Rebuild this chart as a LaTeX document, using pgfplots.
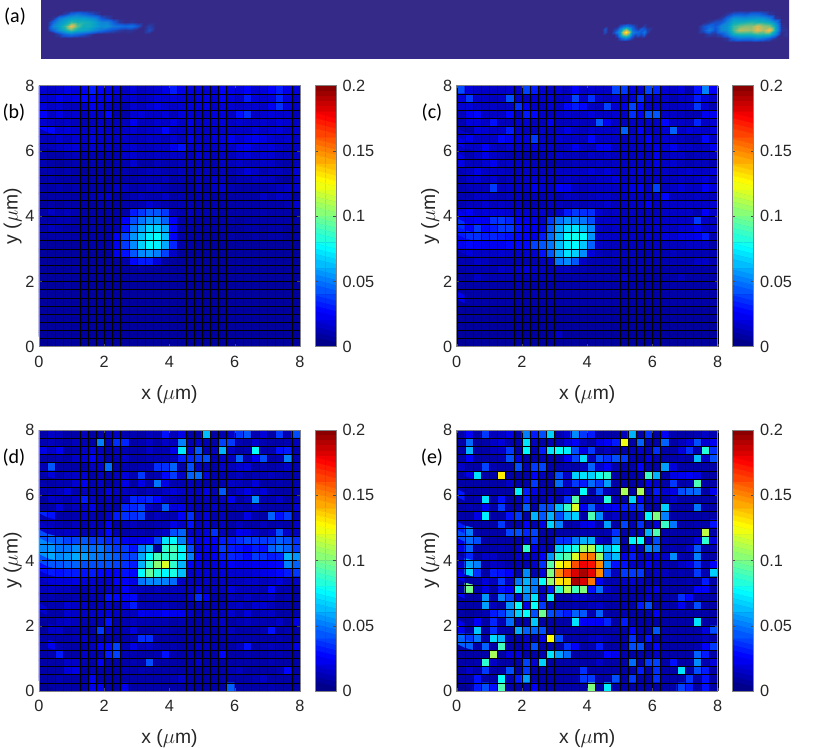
\documentclass[border=0pt]{standalone}
\usepackage{fontspec}
\setmainfont{Liberation Sans}
\newfontfamily\panelfont{Carlito}
\usepackage{pgfplots}
\usepackage{pgfplotstable}
\pgfplotsset{compat=1.18}
\pgfplotsset{table/x index=0,table/y index=0,table/z index=0}
\definecolor{txt}{RGB}{38,38,38}
\definecolor{axgray}{RGB}{130,130,130}
\definecolor{stripbg}{RGB}{53,42,135}
\definecolor{lowblue}{RGB}{0,0,150}

% strip (a): blobs, value 0..1 of the colormap, one line per y
\pgfplotstableread[row sep=crcr,header=false]{
0\\0\\0\\0\\0\\0\\0\\0\\0\\0\\0\\0\\0\\0\\0\\0\\0\\0\\0\\
0\\0\\0\\.05\\.15\\.2\\.15\\.1\\.05\\0\\0\\0\\0\\0\\0\\0\\0\\0\\0\\
0\\.02\\.2\\.3\\.35\\.35\\.35\\.3\\.25\\.1\\.05\\0\\0\\0\\0\\0\\0\\0\\0\\
0\\.15\\.3\\.38\\.5\\.45\\.45\\.42\\.35\\.25\\.25\\.12\\.03\\0\\.02\\0\\0\\0\\0\\
0\\.25\\.35\\.5\\.82\\.55\\.42\\.42\\.35\\.28\\.3\\.2\\.18\\.15\\.18\\.1\\0\\.05\\0\\
0\\.15\\.3\\.42\\.55\\.42\\.38\\.33\\.25\\.18\\.12\\.08\\.04\\.02\\.03\\0\\0\\.08\\0\\
0\\0\\.05\\.15\\.2\\.15\\.1\\.05\\0\\0\\0\\0\\0\\0\\0\\0\\0\\0\\0\\
0\\0\\0\\0\\0\\0\\0\\0\\0\\0\\0\\0\\0\\0\\0\\0\\0\\0\\0\\
}\blobleft
\pgfplotstableread[row sep=crcr,header=false]{
0\\0\\0\\0\\0\\0\\0\\0\\0\\.02\\0\\0\\0\\0\\0\\0\\0\\0\\
0\\0\\0\\0\\0\\0\\.08\\.15\\.2\\.15\\.1\\.04\\0\\0\\.04\\0\\0\\0\\
0\\.1\\0\\0\\.03\\.08\\.25\\.45\\.6\\.4\\.18\\.08\\.04\\.12\\.1\\.04\\.03\\0\\
0\\.08\\0\\0\\.08\\.2\\.35\\.75\\1\\.7\\.25\\.18\\.15\\.1\\.2\\.05\\0\\0\\
0\\0\\0\\0\\0\\.08\\.3\\.55\\.6\\.45\\.15\\.05\\.1\\.05\\.1\\0\\0\\0\\
0\\0\\0\\0\\0\\0\\.1\\.2\\.25\\.15\\.05\\0\\0\\0\\0\\0\\0\\0\\
0\\0\\0\\0\\0\\0\\0\\0\\0\\0\\0\\0\\0\\0\\0\\0\\0\\0\\
}\blobmid
\pgfplotstableread[row sep=crcr,header=false]{
0\\0\\0\\0\\0\\0\\0\\0\\0\\0\\0\\0\\0\\0\\0\\
0\\0\\0\\0\\0\\.03\\.1\\.12\\.1\\.15\\.15\\.1\\.03\\0\\0\\
0\\0\\0\\0\\.03\\.15\\.3\\.3\\.28\\.3\\.32\\.3\\.22\\.03\\0\\
0\\0\\.03\\.08\\.1\\.25\\.4\\.42\\.45\\.48\\.45\\.45\\.4\\.25\\0\\
0\\.08\\.15\\.1\\.25\\.3\\.5\\.58\\.62\\.62\\.75\\.65\\.62\\.38\\.02\\
0\\.08\\.22\\.08\\.25\\.3\\.52\\.7\\.68\\.65\\.8\\.68\\.85\\.42\\.03\\
0\\0\\.05\\.03\\.08\\.2\\.4\\.45\\.45\\.45\\.5\\.48\\.48\\.25\\0\\
0\\0\\0\\0\\0\\.03\\.15\\.22\\.2\\.2\\.25\\.2\\.12\\.02\\0\\
0\\0\\0\\0\\0\\0\\0\\0\\0\\0\\0\\0\\0\\0\\0\\
}\blobright

% colour scale, top level first, two cells per level, units of 0.001
\pgfplotstableread[row sep=crcr,header=false]{
198\\198\\194\\194\\190\\190\\186\\186\\182\\182\\178\\178\\174\\174\\170\\170\\166\\166\\162\\162\\
158\\158\\154\\154\\150\\150\\146\\146\\142\\142\\138\\138\\134\\134\\130\\130\\126\\126\\122\\122\\
118\\118\\114\\114\\110\\110\\106\\106\\102\\102\\98\\98\\94\\94\\90\\90\\86\\86\\82\\82\\
78\\78\\74\\74\\70\\70\\66\\66\\62\\62\\58\\58\\54\\54\\50\\50\\46\\46\\42\\42\\
38\\38\\34\\34\\30\\30\\26\\26\\22\\22\\18\\18\\14\\14\\10\\10\\6\\6\\2\\2\\
}\scaletab

% panels: 32 x 32 cells in units of 0.001, top row first, one line per row
\pgfplotstableread[row sep=crcr,header=false]{
16\\14\\16\\20\\18\\22\\30\\24\\20\\18\\12\\18\\12\\14\\16\\20\\30\\20\\18\\18\\16\\16\\24\\20\\18\\24\\16\\18\\24\\30\\20\\18\\
16\\16\\22\\18\\20\\26\\24\\20\\22\\14\\14\\16\\12\\14\\18\\16\\18\\16\\14\\18\\20\\16\\24\\18\\14\\30\\18\\16\\18\\32\\18\\14\\
18\\14\\16\\12\\12\\14\\22\\18\\14\\12\\10\\16\\12\\16\\20\\16\\14\\16\\18\\18\\20\\14\\18\\16\\14\\16\\16\\14\\22\\34\\18\\14\\
24\\14\\20\\14\\16\\12\\16\\14\\26\\10\\8\\16\\18\\14\\14\\18\\12\\18\\16\\14\\14\\18\\18\\14\\28\\34\\14\\16\\18\\16\\16\\12\\
16\\14\\12\\14\\12\\10\\12\\14\\12\\12\\12\\22\\12\\12\\16\\14\\20\\14\\20\\14\\16\\16\\18\\14\\16\\14\\14\\16\\14\\18\\16\\14\\
26\\26\\16\\18\\16\\14\\16\\16\\14\\14\\14\\16\\12\\14\\16\\26\\14\\14\\16\\14\\14\\14\\14\\14\\14\\14\\18\\14\\16\\18\\14\\16\\
12\\12\\16\\12\\16\\14\\18\\14\\14\\14\\14\\12\\12\\14\\14\\12\\16\\12\\20\\14\\14\\18\\18\\22\\16\\20\\22\\20\\16\\14\\16\\14\\
12\\12\\14\\16\\18\\12\\16\\14\\14\\12\\14\\16\\12\\12\\14\\14\\22\\28\\14\\16\\14\\14\\16\\14\\20\\22\\16\\16\\18\\14\\12\\14\\
10\\8\\8\\10\\12\\10\\10\\10\\10\\10\\14\\16\\12\\12\\14\\12\\14\\14\\12\\18\\14\\12\\14\\12\\16\\18\\14\\16\\16\\12\\12\\14\\
10\\8\\6\\8\\10\\8\\10\\10\\8\\10\\10\\16\\8\\8\\12\\10\\10\\12\\12\\12\\10\\10\\14\\12\\14\\12\\12\\14\\14\\10\\8\\12\\
10\\10\\8\\10\\8\\6\\8\\8\\8\\8\\10\\8\\10\\12\\12\\10\\10\\12\\10\\12\\12\\10\\12\\10\\12\\18\\14\\10\\12\\12\\10\\18\\
8\\10\\8\\8\\8\\8\\8\\10\\6\\8\\8\\8\\10\\10\\10\\12\\8\\10\\8\\12\\10\\14\\12\\8\\10\\10\\12\\12\\12\\8\\6\\14\\
8\\8\\10\\8\\10\\8\\8\\8\\8\\14\\12\\8\\10\\12\\12\\10\\8\\8\\8\\12\\8\\14\\16\\10\\8\\8\\8\\8\\10\\12\\14\\16\\
8\\8\\8\\8\\8\\8\\10\\12\\14\\8\\8\\10\\12\\10\\10\\14\\8\\10\\8\\10\\10\\8\\8\\8\\8\\8\\8\\14\\10\\14\\12\\8\\
6\\8\\6\\8\\8\\8\\6\\8\\8\\8\\8\\8\\10\\16\\12\\10\\8\\10\\10\\8\\8\\10\\8\\8\\8\\8\\8\\8\\8\\8\\10\\16\\
8\\14\\10\\12\\10\\8\\8\\8\\8\\8\\8\\30\\36\\42\\42\\36\\12\\10\\12\\10\\10\\10\\8\\8\\8\\8\\8\\10\\8\\8\\8\\8\\
8\\8\\10\\10\\8\\8\\8\\8\\8\\8\\24\\40\\48\\54\\54\\44\\24\\8\\10\\8\\8\\8\\8\\8\\6\\8\\8\\8\\8\\8\\8\\8\\
8\\12\\10\\8\\8\\8\\8\\8\\8\\10\\28\\48\\58\\66\\66\\58\\26\\8\\8\\8\\8\\8\\8\\6\\6\\8\\8\\6\\8\\8\\6\\6\\
8\\8\\8\\8\\8\\8\\8\\8\\8\\24\\38\\54\\64\\72\\76\\62\\24\\8\\8\\8\\6\\6\\6\\8\\6\\6\\8\\6\\8\\8\\6\\8\\
6\\6\\6\\6\\6\\8\\8\\8\\8\\22\\36\\52\\66\\74\\72\\58\\32\\8\\8\\6\\6\\6\\6\\6\\6\\6\\6\\6\\6\\6\\6\\6\\
6\\6\\6\\6\\6\\6\\6\\6\\6\\22\\28\\42\\52\\54\\50\\38\\14\\6\\6\\6\\6\\6\\6\\6\\6\\6\\6\\6\\6\\6\\6\\6\\
6\\6\\6\\6\\6\\6\\6\\6\\6\\6\\8\\26\\30\\30\\18\\8\\6\\6\\6\\6\\6\\6\\6\\6\\6\\6\\6\\6\\6\\6\\6\\6\\
6\\6\\6\\6\\7\\6\\6\\6\\6\\6\\6\\6\\7\\6\\6\\6\\6\\6\\6\\6\\6\\6\\6\\6\\6\\6\\6\\6\\6\\6\\6\\6\\
6\\6\\6\\6\\6\\6\\6\\6\\6\\6\\6\\6\\6\\6\\6\\6\\6\\6\\6\\6\\6\\6\\6\\6\\6\\6\\6\\6\\6\\6\\6\\6\\
6\\6\\6\\7\\6\\6\\6\\6\\6\\6\\6\\6\\6\\6\\6\\6\\6\\6\\6\\6\\6\\6\\6\\6\\6\\6\\6\\6\\6\\6\\6\\6\\
6\\6\\6\\6\\6\\6\\6\\6\\6\\6\\6\\6\\6\\6\\6\\6\\6\\6\\6\\6\\6\\6\\6\\6\\6\\6\\6\\6\\6\\6\\6\\6\\
6\\6\\6\\6\\6\\6\\6\\6\\6\\6\\6\\6\\6\\6\\6\\6\\6\\6\\6\\6\\6\\6\\6\\6\\6\\6\\6\\6\\6\\6\\6\\6\\
6\\6\\6\\6\\6\\6\\6\\6\\6\\6\\6\\6\\6\\6\\6\\6\\6\\6\\6\\6\\6\\6\\6\\6\\6\\6\\6\\6\\6\\6\\6\\6\\
6\\6\\6\\6\\6\\6\\6\\6\\6\\6\\6\\6\\6\\6\\6\\6\\6\\6\\6\\6\\6\\6\\6\\6\\6\\6\\6\\6\\6\\6\\6\\6\\
6\\6\\6\\6\\6\\6\\6\\6\\6\\6\\6\\6\\6\\6\\6\\6\\6\\6\\6\\6\\6\\6\\6\\6\\6\\6\\6\\6\\6\\6\\6\\6\\
6\\6\\6\\6\\6\\6\\6\\6\\6\\6\\6\\6\\6\\6\\6\\6\\6\\6\\6\\6\\6\\6\\6\\6\\6\\6\\6\\6\\6\\6\\6\\6\\
6\\6\\6\\6\\6\\6\\6\\6\\6\\6\\6\\6\\6\\6\\6\\6\\6\\6\\6\\6\\6\\6\\6\\6\\6\\6\\6\\6\\6\\6\\6\\6\\
}\tabb
\pgfplotstableread[row sep=crcr,header=false]{
40\\18\\14\\14\\14\\14\\16\\14\\38\\30\\16\\14\\16\\12\\24\\14\\16\\14\\14\\38\\36\\18\\16\\38\\32\\16\\14\\18\\10\\28\\50\\24\\
18\\36\\14\\14\\12\\14\\40\\14\\12\\16\\14\\16\\12\\14\\38\\14\\34\\14\\12\\16\\14\\16\\34\\14\\14\\14\\10\\14\\14\\30\\18\\14\\
16\\18\\14\\12\\14\\12\\14\\34\\22\\14\\12\\16\\14\\26\\30\\26\\14\\12\\38\\16\\20\\38\\26\\14\\16\\14\\12\\14\\14\\36\\16\\10\\
12\\22\\26\\14\\14\\14\\26\\12\\30\\26\\14\\12\\14\\16\\14\\14\\18\\14\\14\\16\\14\\34\\22\\40\\42\\14\\14\\12\\10\\10\\22\\22\\
10\\18\\18\\14\\28\\12\\12\\14\\16\\12\\12\\22\\12\\12\\14\\12\\12\\42\\22\\14\\12\\14\\14\\14\\14\\26\\14\\14\\12\\32\\14\\16\\
8\\8\\18\\16\\14\\14\\30\\14\\12\\12\\14\\12\\14\\20\\14\\12\\16\\14\\14\\14\\44\\12\\24\\14\\14\\16\\44\\14\\18\\16\\14\\18\\
14\\22\\14\\14\\14\\26\\22\\18\\18\\36\\14\\12\\16\\14\\14\\12\\26\\14\\14\\14\\12\\14\\14\\24\\14\\16\\14\\12\\10\\10\\26\\14\\
20\\14\\14\\24\\14\\12\\16\\14\\14\\18\\14\\14\\12\\14\\22\\14\\12\\22\\22\\14\\14\\14\\14\\14\\20\\16\\22\\14\\14\\12\\14\\22\\
14\\10\\14\\20\\14\\12\\10\\10\\8\\10\\10\\12\\14\\12\\12\\10\\14\\12\\14\\12\\14\\12\\14\\12\\22\\12\\14\\14\\10\\12\\12\\12\\
20\\12\\12\\16\\22\\12\\14\\14\\14\\12\\10\\8\\10\\10\\12\\12\\12\\14\\12\\14\\14\\14\\14\\14\\20\\14\\16\\12\\10\\12\\12\\10\\
12\\14\\20\\14\\14\\14\\12\\12\\14\\14\\12\\12\\14\\14\\14\\14\\18\\14\\18\\14\\14\\16\\18\\14\\14\\14\\12\\14\\16\\14\\14\\18\\
10\\14\\16\\12\\16\\10\\12\\12\\14\\16\\14\\12\\12\\14\\12\\12\\12\\14\\14\\18\\14\\14\\14\\12\\14\\12\\12\\14\\12\\14\\18\\12\\
10\\12\\12\\12\\36\\12\\14\\14\\14\\22\\16\\14\\24\\22\\14\\12\\14\\14\\14\\14\\16\\20\\22\\14\\38\\12\\14\\18\\14\\14\\24\\18\\
10\\10\\14\\14\\12\\10\\12\\12\\10\\12\\10\\12\\10\\14\\12\\10\\12\\14\\14\\12\\14\\14\\14\\14\\14\\26\\12\\12\\12\\14\\12\\12\\
10\\12\\12\\16\\12\\14\\12\\12\\10\\10\\10\\12\\12\\10\\12\\10\\12\\12\\16\\12\\14\\14\\14\\22\\14\\14\\14\\14\\14\\14\\14\\16\\
18\\24\\16\\18\\18\\18\\16\\16\\16\\14\\16\\12\\14\\30\\36\\34\\34\\16\\12\\14\\12\\14\\12\\12\\12\\14\\14\\14\\14\\10\\24\\14\\
22\\20\\24\\22\\34\\36\\32\\24\\22\\20\\14\\36\\48\\54\\50\\48\\40\\14\\14\\14\\14\\12\\14\\14\\16\\14\\14\\14\\14\\36\\14\\12\\
34\\24\\36\\26\\30\\36\\36\\28\\24\\22\\20\\42\\58\\68\\70\\62\\52\\14\\12\\14\\12\\12\\14\\14\\16\\14\\12\\16\\16\\22\\14\\14\\
30\\34\\34\\30\\32\\30\\28\\26\\24\\20\\30\\46\\60\\76\\78\\76\\54\\14\\14\\14\\14\\14\\12\\16\\14\\18\\16\\20\\20\\22\\30\\10\\
22\\26\\24\\22\\22\\22\\26\\26\\26\\38\\42\\48\\62\\72\\74\\64\\44\\14\\12\\12\\12\\12\\12\\12\\14\\12\\12\\12\\14\\14\\14\\8\\
14\\18\\14\\14\\14\\16\\14\\14\\16\\16\\28\\42\\58\\70\\66\\52\\18\\12\\10\\12\\12\\12\\10\\10\\12\\10\\12\\10\\10\\10\\10\\10\\
10\\10\\14\\12\\10\\10\\10\\10\\10\\10\\12\\14\\48\\52\\42\\14\\10\\10\\10\\10\\10\\10\\10\\10\\10\\10\\10\\10\\10\\14\\14\\10\\
10\\10\\10\\10\\10\\14\\12\\14\\18\\14\\12\\10\\12\\12\\10\\10\\8\\8\\8\\8\\8\\8\\10\\8\\8\\8\\8\\8\\8\\8\\8\\8\\
8\\8\\14\\10\\10\\10\\10\\10\\10\\10\\10\\10\\8\\8\\8\\8\\8\\8\\8\\8\\14\\8\\8\\8\\8\\8\\8\\12\\8\\8\\8\\8\\
8\\8\\8\\8\\8\\8\\8\\10\\8\\8\\8\\8\\8\\8\\8\\8\\8\\8\\8\\8\\8\\8\\8\\8\\8\\8\\8\\8\\8\\8\\8\\8\\
8\\8\\8\\8\\8\\8\\8\\8\\8\\10\\8\\8\\8\\8\\8\\8\\8\\8\\8\\8\\8\\8\\8\\8\\8\\8\\8\\8\\8\\8\\8\\8\\
22\\8\\8\\8\\8\\8\\8\\8\\8\\8\\8\\8\\8\\8\\8\\8\\8\\8\\8\\8\\8\\8\\8\\8\\8\\8\\8\\8\\8\\8\\8\\8\\
6\\6\\6\\6\\6\\6\\6\\6\\6\\6\\6\\6\\6\\6\\6\\6\\6\\6\\6\\6\\6\\6\\6\\6\\6\\6\\6\\6\\6\\6\\6\\6\\
6\\6\\6\\6\\6\\6\\6\\6\\6\\6\\6\\6\\6\\6\\6\\6\\6\\6\\6\\6\\6\\6\\6\\6\\6\\6\\6\\6\\6\\6\\6\\6\\
6\\6\\6\\6\\6\\6\\6\\6\\6\\6\\6\\6\\6\\6\\6\\6\\6\\6\\6\\6\\6\\6\\6\\6\\6\\6\\6\\6\\6\\6\\6\\6\\
6\\6\\6\\6\\6\\6\\6\\6\\6\\6\\6\\6\\14\\6\\6\\6\\6\\6\\6\\6\\6\\6\\6\\6\\6\\6\\6\\6\\6\\6\\6\\6\\
6\\6\\6\\6\\6\\6\\6\\6\\6\\6\\6\\6\\6\\6\\6\\6\\6\\6\\6\\6\\6\\6\\6\\6\\6\\6\\6\\6\\6\\6\\6\\6\\
}\tabc
\pgfplotstableread[row sep=crcr,header=false]{
8\\14\\12\\8\\8\\12\\8\\10\\12\\14\\10\\10\\8\\12\\10\\28\\12\\20\\8\\8\\62\\8\\10\\14\\36\\42\\10\\18\\8\\36\\10\\40\\
10\\12\\10\\8\\12\\10\\8\\50\\10\\34\\32\\8\\10\\14\\8\\14\\12\\50\\10\\14\\10\\8\\38\\36\\10\\8\\16\\10\\8\\8\\10\\12\\
20\\14\\22\\8\\10\\14\\18\\12\\8\\12\\10\\8\\8\\14\\10\\10\\20\\70\\16\\42\\10\\12\\60\\14\\8\\10\\76\\10\\10\\28\\30\\10\\
8\\8\\10\\8\\14\\16\\24\\14\\8\\10\\14\\8\\8\\10\\10\\10\\12\\30\\32\\36\\40\\10\\14\\12\\44\\10\\22\\40\\8\\10\\50\\10\\
10\\42\\8\\8\\8\\8\\12\\14\\46\\8\\10\\8\\10\\10\\34\\34\\44\\8\\40\\12\\10\\8\\14\\12\\16\\18\\8\\10\\8\\10\\14\\10\\
10\\18\\10\\12\\14\\16\\8\\12\\10\\12\\18\\10\\36\\8\\10\\26\\36\\14\\44\\46\\18\\10\\10\\10\\12\\8\\10\\10\\12\\10\\8\\10\\
8\\8\\10\\10\\16\\22\\10\\14\\8\\10\\20\\8\\20\\10\\48\\20\\10\\10\\12\\10\\8\\8\\10\\14\\12\\10\\18\\8\\8\\10\\8\\10\\
10\\10\\12\\18\\10\\12\\10\\10\\18\\12\\12\\12\\8\\12\\10\\14\\18\\14\\12\\12\\20\\10\\42\\10\\14\\20\\12\\18\\10\\8\\8\\10\\
8\\14\\12\\10\\14\\30\\12\\10\\12\\10\\12\\32\\30\\32\\26\\14\\12\\10\\12\\10\\12\\10\\12\\22\\8\\12\\52\\10\\10\\14\\8\\12\\
6\\8\\18\\8\\12\\14\\20\\8\\10\\8\\32\\32\\38\\14\\10\\42\\18\\20\\12\\10\\10\\14\\10\\8\\10\\8\\14\\8\\8\\8\\8\\16\\
32\\28\\8\\8\\10\\14\\10\\8\\14\\30\\34\\34\\38\\8\\12\\10\\10\\24\\34\\12\\18\\10\\12\\8\\8\\20\\10\\8\\44\\28\\36\\10\\
10\\12\\10\\8\\12\\10\\12\\10\\22\\8\\10\\12\\8\\8\\10\\10\\20\\14\\28\\12\\16\\10\\12\\8\\12\\8\\8\\12\\8\\10\\8\\14\\
14\\14\\12\\14\\14\\10\\10\\14\\26\\10\\8\\10\\10\\8\\12\\14\\40\\44\\14\\14\\18\\34\\12\\10\\22\\20\\14\\10\\14\\40\\14\\12\\
40\\44\\44\\38\\38\\42\\36\\36\\32\\32\\22\\20\\22\\24\\38\\70\\74\\50\\28\\20\\24\\24\\30\\30\\34\\38\\36\\36\\38\\44\\40\\34\\
52\\54\\48\\48\\52\\50\\46\\48\\42\\36\\36\\28\\50\\60\\6\\84\\88\\72\\40\\18\\22\\22\\36\\30\\28\\24\\30\\28\\44\\48\\44\\36\\
54\\58\\52\\54\\58\\56\\50\\48\\46\\42\\38\\38\\58\\76\\88\\84\\86\\74\\50\\24\\18\\22\\30\\32\\30\\26\\36\\34\\30\\32\\60\\54\\
40\\42\\42\\44\\44\\40\\40\\40\\40\\38\\34\\30\\60\\84\\102\\118\\84\\60\\22\\18\\16\\18\\20\\24\\20\\20\\22\\22\\24\\26\\50\\44\\
28\\30\\28\\30\\30\\28\\30\\26\\24\\24\\28\\26\\74\\94\\82\\74\\80\\62\\14\\16\\16\\14\\18\\16\\16\\16\\18\\20\\22\\26\\30\\36\\
16\\18\\18\\18\\20\\18\\16\\14\\14\\24\\24\\20\\48\\52\\52\\50\\46\\14\\12\\12\\14\\12\\14\\12\\12\\14\\14\\12\\14\\18\\12\\14\\
12\\14\\12\\12\\10\\10\\12\\10\\12\\12\\24\\14\\12\\10\\12\\10\\12\\12\\12\\18\\10\\12\\12\\18\\12\\12\\12\\10\\26\\10\\10\\8\\
8\\10\\8\\8\\10\\8\\10\\10\\28\\26\\22\\26\\8\\10\\10\\10\\10\\10\\14\\34\\22\\8\\8\\12\\10\\14\\10\\12\\14\\8\\10\\8\\
8\\10\\10\\16\\14\\14\\10\\12\\14\\10\\18\\30\\10\\10\\10\\12\\10\\8\\8\\10\\8\\10\\10\\12\\14\\10\\16\\16\\12\\8\\8\\8\\
16\\8\\8\\16\\14\\14\\14\\16\\18\\14\\12\\12\\22\\20\\20\\24\\22\\22\\14\\10\\12\\12\\12\\16\\10\\18\\10\\12\\14\\8\\8\\10\\
8\\8\\12\\14\\12\\10\\10\\10\\28\\8\\10\\12\\10\\10\\10\\10\\8\\10\\8\\8\\8\\10\\14\\8\\10\\12\\10\\10\\10\\14\\8\\20\\
6\\14\\14\\8\\10\\8\\8\\36\\14\\10\\10\\18\\8\\8\\10\\10\\8\\8\\8\\8\\10\\8\\10\\12\\8\\8\\8\\10\\28\\8\\10\\8\\
8\\8\\8\\8\\10\\14\\8\\8\\8\\8\\8\\10\\34\\34\\8\\8\\8\\8\\8\\8\\10\\8\\8\\8\\8\\8\\8\\8\\8\\10\\8\\8\\
8\\22\\10\\8\\8\\8\\12\\24\\26\\38\\10\\20\\12\\14\\10\\8\\10\\8\\8\\14\\12\\10\\8\\8\\12\\28\\8\\10\\12\\10\\10\\20\\
8\\10\\30\\8\\8\\14\\10\\10\\30\\38\\10\\10\\8\\8\\10\\28\\10\\8\\10\\8\\10\\8\\26\\8\\8\\10\\8\\8\\10\\10\\8\\8\\
8\\8\\8\\14\\14\\10\\8\\22\\8\\8\\8\\10\\8\\40\\8\\8\\8\\8\\8\\14\\8\\8\\8\\8\\8\\8\\8\\8\\10\\8\\8\\8\\
8\\8\\8\\18\\20\\8\\10\\8\\8\\8\\10\\8\\10\\8\\8\\8\\8\\8\\8\\8\\8\\8\\8\\10\\12\\8\\8\\8\\8\\10\\26\\8\\
8\\8\\10\\8\\8\\8\\22\\8\\8\\8\\8\\8\\8\\8\\8\\8\\10\\14\\8\\8\\8\\8\\8\\8\\8\\8\\10\\14\\8\\8\\8\\8\\
8\\8\\8\\8\\8\\8\\22\\22\\8\\8\\22\\8\\8\\8\\8\\8\\8\\8\\8\\8\\8\\8\\8\\44\\8\\8\\8\\8\\10\\8\\8\\8\\
}\tabd
\pgfplotstableread[row sep=crcr,header=false]{
8\\24\\8\\36\\12\\14\\20\\8\\50\\30\\40\\66\\10\\16\\52\\36\\30\\8\\8\\8\\12\\60\\8\\34\\8\\24\\10\\8\\8\\10\\14\\10\\
8\\46\\6\\8\\14\\18\\10\\8\\70\\12\\8\\10\\10\\18\\24\\12\\8\\20\\24\\30\\122\\8\\44\\8\\8\\44\\8\\12\\18\\40\\16\\22\\
8\\60\\8\\8\\12\\14\\36\\8\\74\\10\\30\\70\\76\\72\\40\\20\\36\\8\\12\\8\\8\\10\\14\\10\\34\\8\\8\\18\\34\\10\\82\\34\\
8\\24\\8\\8\\8\\10\\40\\18\\8\\8\\10\\8\\8\\22\\38\\68\\12\\40\\34\\40\\36\\10\\8\\18\\10\\8\\8\\10\\8\\62\\14\\40\\
14\\8\\8\\38\\10\\8\\8\\40\\10\\36\\38\\8\\8\\10\\8\\12\\44\\16\\24\\10\\8\\8\\24\\8\\8\\56\\18\\8\\8\\8\\8\\8\\
8\\20\\70\\8\\8\\128\\8\\8\\8\\24\\12\\8\\40\\14\\66\\70\\66\\78\\84\\8\\8\\8\\10\\86\\60\\8\\20\\22\\24\\20\\8\\8\\
8\\8\\8\\8\\8\\8\\14\\8\\8\\36\\8\\8\\46\\14\\36\\30\\46\\36\\56\\8\\8\\8\\8\\20\\14\\8\\36\\8\\10\\90\\8\\8\\
8\\8\\8\\8\\8\\8\\8\\72\\30\\20\\12\\8\\10\\14\\8\\76\\8\\40\\12\\8\\108\\8\\108\\10\\30\\16\\20\\40\\44\\46\\8\\22\\
30\\8\\10\\70\\8\\28\\8\\10\\30\\10\\8\\16\\8\\34\\92\\8\\8\\10\\82\\10\\8\\66\\24\\8\\14\\8\\14\\8\\8\\8\\8\\8\\
8\\10\\8\\22\\8\\36\\8\\8\\44\\8\\40\\40\\62\\86\\118\\22\\44\\14\\20\\24\\30\\30\\34\\8\\8\\66\\8\\8\\8\\48\\8\\8\\
8\\8\\20\\72\\8\\8\\28\\36\\8\\60\\42\\60\\40\\60\\66\\8\\90\\52\\10\\14\\10\\8\\12\\74\\100\\50\\8\\8\\8\\8\\8\\8\\
8\\8\\8\\8\\8\\36\\8\\8\\24\\10\\20\\66\\50\\8\\10\\20\\22\\10\\56\\8\\38\\10\\34\\8\\18\\86\\48\\8\\8\\10\\8\\28\\
30\\50\\8\\8\\8\\8\\38\\40\\32\\38\\8\\8\\8\\8\\8\\10\\10\\8\\10\\34\\8\\10\\10\\60\\90\\8\\8\\8\\8\\8\\112\\8\\
40\\46\\40\\8\\8\\8\\8\\8\\14\\34\\8\\8\\34\\34\\48\\60\\60\\14\\10\\48\\8\\72\\76\\12\\40\\10\\8\\8\\8\\18\\84\\18\\
20\\44\\8\\8\\8\\10\\8\\12\\84\\20\\12\\10\\66\\72\\80\\108\\110\\80\\62\\72\\8\\20\\10\\52\\46\\8\\10\\8\\14\\42\\8\\10\\
8\\32\\8\\14\\14\\8\\8\\14\\14\\14\\24\\54\\84\\92\\118\\148\\152\\106\\52\\62\\20\\30\\14\\16\\20\\14\\52\\10\\8\\50\\8\\8\\
14\\56\\50\\8\\14\\12\\8\\10\\10\\14\\34\\92\\122\\132\\160\\178\\172\\148\\52\\28\\28\\14\\12\\22\\14\\10\\8\\14\\18\\36\\10\\24\\
16\\66\\34\\8\\30\\28\\24\\8\\52\\10\\18\\100\\148\\164\\182\\192\\180\\148\\40\\12\\36\\36\\36\\10\\14\\12\\8\\10\\8\\36\\10\\66\\
22\\8\\8\\18\\12\\36\\14\\48\\60\\50\\76\\104\\130\\132\\192\\182\\152\\22\\10\\10\\14\\16\\12\\8\\8\\8\\8\\8\\10\\8\\30\\8\\
8\\98\\8\\20\\8\\28\\24\\72\\58\\48\\12\\30\\84\\110\\88\\100\\28\\46\\14\\10\\10\\10\\8\\14\\20\\8\\8\\8\\8\\24\\24\\8\\
26\\8\\8\\54\\8\\50\\38\\16\\50\\70\\14\\72\\8\\8\\14\\14\\10\\8\\8\\8\\8\\8\\8\\14\\8\\8\\8\\34\\26\\8\\8\\8\\
8\\8\\8\\56\\12\\8\\54\\76\\20\\76\\36\\8\\8\\8\\10\\8\\12\\14\\8\\8\\10\\8\\30\\40\\8\\10\\8\\22\\8\\40\\8\\8\\
8\\6\\8\\10\\30\\36\\50\\66\\76\\40\\96\\40\\36\\30\\44\\42\\10\\44\\8\\8\\10\\8\\8\\8\\24\\8\\8\\8\\8\\8\\8\\8\\
8\\8\\24\\8\\32\\10\\46\\8\\8\\64\\8\\8\\8\\8\\70\\24\\24\\24\\32\\8\\30\\8\\8\\8\\8\\8\\8\\8\\8\\70\\8\\8\\
22\\8\\64\\8\\34\\10\\8\\58\\44\\44\\40\\8\\8\\8\\8\\8\\8\\8\\8\\8\\8\\24\\10\\8\\42\\8\\8\\8\\8\\8\\18\\40\\
46\\36\\48\\8\\68\\60\\10\\8\\14\\8\\20\\124\\40\\8\\8\\8\\12\\14\\10\\8\\8\\34\\8\\28\\8\\8\\8\\8\\8\\8\\12\\8\\
44\\44\\8\\44\\8\\88\\8\\8\\14\\40\\8\\8\\8\\34\\24\\8\\10\\30\\8\\8\\8\\40\\40\\8\\26\\8\\8\\8\\8\\10\\24\\36\\
8\\8\\8\\8\\108\\8\\18\\18\\8\\8\\10\\70\\56\\46\\8\\8\\8\\8\\26\\22\\10\\8\\8\\8\\14\\8\\8\\8\\8\\44\\30\\8\\
8\\8\\10\\84\\14\\8\\8\\8\\38\\16\\66\\8\\8\\8\\8\\8\\8\\14\\8\\8\\8\\46\\8\\36\\38\\8\\28\\8\\8\\52\\10\\18\\
8\\14\\10\\36\\8\\8\\40\\8\\36\\8\\8\\8\\8\\8\\8\\34\\8\\8\\8\\8\\8\\8\\30\\8\\34\\8\\8\\70\\8\\40\\30\\8\\
8\\8\\28\\8\\8\\76\\10\\30\\56\\8\\8\\8\\8\\8\\8\\36\\36\\8\\8\\40\\8\\36\\8\\8\\34\\8\\8\\8\\36\\8\\28\\8\\
8\\8\\30\\40\\28\\90\\8\\8\\8\\24\\8\\8\\8\\8\\8\\8\\100\\8\\72\\8\\8\\8\\8\\8\\8\\8\\8\\38\\30\\8\\28\\8\\
}\tabe

\pgfplotsset{
  panel/.style={
    scale only axis, width=261pt, height=261pt,
    xmin=0, xmax=8, ymin=0, ymax=8,
    xtick={0,2,4,6,8}, ytick={0,2,4,6,8},
    xticklabels={0,2,4,6,8}, yticklabels={8,6,4,2,0},
    minor x tick num=7, minor y tick num=7, minor tick length=0pt,
    grid=both, grid style={draw=black,line width=0.4pt},
    tick align=inside, major tick length=2.6pt,
    tick style={draw=black!70,line width=0.4pt},
    axis line style={draw=axgray,line width=0.7pt},
    axis on top,
    axis background/.style={fill=lowblue},
    colormap/jet, point meta min=0, point meta max=0.2,
    tick label style={font=\fontsize{16.3}{19}\selectfont,text=txt},
    xticklabel style={yshift=-6pt},
    yticklabel style={xshift=-1pt},
    label style={font=\fontsize{19.3}{22}\selectfont,text=txt},
    xlabel={x ($\mu$m)}, ylabel={y ($\mu$m)},
    xlabel style={yshift=-11pt},
    ylabel style={yshift=-3pt},
  },
  scalebar/.style={
    scale only axis, width=21pt, height=261pt,
    xmin=0, xmax=2, ymin=0, ymax=200,
    xtick=\empty, ytick={0,50,100,150,200},
    yticklabels={0.2,0.15,0.1,0.05,0},
    yticklabel pos=right,
    tick align=inside, major tick length=2.6pt,
    tick style={draw=black!70,line width=0.4pt},
    axis line style={draw=axgray,line width=0.7pt},
    axis on top,
    axis background/.style={fill=lowblue},
    colormap/jet, point meta min=0, point meta max=0.2,
    yticklabel style={font=\fontsize{16.3}{19}\selectfont,text=txt,xshift=3pt},
  },
  cells/.style={matrix plot, mesh/cols=32, point meta=explicit,
    faceted color=black, line width=0.35pt},
  scalecells/.style={matrix plot, mesh/cols=2, point meta=explicit},
}
\newcommand{\cellmap}[1]{\addplot[cells] table[
    x expr={0.25*mod(\coordindex,32)+0.125},
    y expr={0.125+0.25*floor(\coordindex/32)},
    meta expr={\thisrowno{0}/1000}] {#1};}
\newcommand{\scaleplot}{\addplot[scalecells] table[
    x expr={0.5+mod(\coordindex,2)},
    y expr={2+4*floor(\coordindex/2)},
    meta expr={\thisrowno{0}/1000}] {\scaletab};}

\begin{document}
\begin{tikzpicture}[x=1pt,y=1pt]
\path[use as bounding box] (0,0) rectangle (830,747);

% strip (a), axis in reference pixels, y downwards
\begin{axis}[at={(41pt,688pt)}, anchor=south west, scale only axis, width=748pt, height=59pt,
    xmin=41, xmax=789, ymin=0, ymax=59, y dir=reverse, view={0}{90},
    ticks=none, axis line style={draw=none},
    axis background/.style={fill=stripbg},
    colormap={parula}{rgb255=(53,42,135) rgb255=(15,92,221) rgb255=(18,125,216) rgb255=(7,156,207)
      rgb255=(21,177,180) rgb255=(89,189,140) rgb255=(165,190,107) rgb255=(225,185,82)
      rgb255=(252,206,46) rgb255=(249,251,14)},
    point meta min=0, point meta max=1]
\addplot3[surf, shader=interp, mesh/cols=19, point meta=explicit] table[
    x expr={50+6*mod(\coordindex,19)}, y expr={12+4*floor(\coordindex/19)}, z expr=0, meta index=0] {\blobleft};
\addplot3[surf, shader=interp, mesh/cols=18, point meta=explicit] table[
    x expr={603+3*mod(\coordindex,18)}, y expr={25+3*floor(\coordindex/18)}, z expr=0, meta index=0] {\blobmid};
\addplot3[surf, shader=interp, mesh/cols=15, point meta=explicit] table[
    x expr={700+6*mod(\coordindex,15)}, y expr={12+4*floor(\coordindex/15)}, z expr=0, meta index=0] {\blobright};
\end{axis}

\begin{axis}[panel, at={(39pt,400.3pt)}, anchor=south west]
\cellmap{\tabb}
\end{axis}
\begin{axis}[scalebar, at={(315pt,400.3pt)}, anchor=south west]
\scaleplot
\end{axis}
\begin{axis}[panel, at={(456.7pt,400.3pt)}, anchor=south west]
\cellmap{\tabc}
\end{axis}
\begin{axis}[scalebar, at={(732.7pt,400.3pt)}, anchor=south west]
\scaleplot
\end{axis}
\begin{axis}[panel, at={(39pt,56pt)}, anchor=south west]
\cellmap{\tabd}
\end{axis}
\begin{axis}[scalebar, at={(315pt,56pt)}, anchor=south west]
\scaleplot
\end{axis}
\begin{axis}[panel, at={(456.7pt,56pt)}, anchor=south west]
\cellmap{\tabe}
\end{axis}
\begin{axis}[scalebar, at={(732.7pt,56pt)}, anchor=south west]
\scaleplot
\end{axis}

\node[font=\panelfont\fontsize{20}{24}\selectfont] at (15,730) {(a)};
\node[font=\panelfont\fontsize{20}{24}\selectfont] at (14,634) {(b)};
\node[font=\panelfont\fontsize{20}{24}\selectfont] at (432,634) {(c)};
\node[font=\panelfont\fontsize{20}{24}\selectfont] at (14,289) {(d)};
\node[font=\panelfont\fontsize{20}{24}\selectfont] at (432,289) {(e)};
\end{tikzpicture}
\end{document}
